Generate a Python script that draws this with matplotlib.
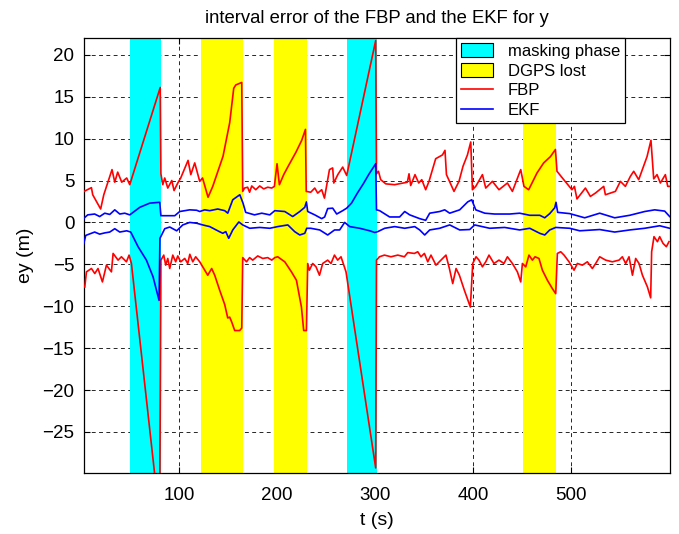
import matplotlib
matplotlib.use("Agg")
import matplotlib.pyplot as plt
from matplotlib.patches import Patch
from matplotlib.lines import Line2D

plt.rcParams['font.family'] = ['Liberation Sans', 'DejaVu Sans']

# ============================================================
#   DATA
# ============================================================
masking_phase = [(50, 82), (271, 302)]
dgps_lost = [(122, 165), (197, 231), (451, 485)]

fbp_up_t = [3.1, 10.6, 11.9, 20, 23.2, 31.6, 34.4, 37.4, 41.5, 46.6, 49.7, 80.8, 81.5,
            83.4, 85.4, 88.5, 92.6, 94.9, 98.7, 101.7, 109.2, 112, 116, 121.1, 124, 129.6,
            134.4, 144.9, 151.7, 155.8, 157.9, 164, 165, 166.8, 170, 172, 174.2, 178.3,
            182.3, 186.4, 190.5, 194.6, 197.3, 200, 202.4, 206.8, 210.9, 219.4, 225.2, 229,
            229.8, 234.4, 238.5, 241.5, 245.6, 248.4, 253.5, 256.8, 257.9, 262, 267, 271.1,
            300.7, 301.5, 303.5, 305.8, 311, 320, 333, 334.7, 336.4, 340.8, 344.6, 347.7,
            351.7, 355.1, 361.9, 368.8, 371.4, 372.9, 380.6, 385.7, 389.8, 394.3, 397.7,
            399.4, 402.8, 409.6, 413, 419.8, 426.5, 435.1, 440.2, 448.7, 452, 456.8, 465.3,
            472.1, 479, 484.1, 485.7, 492.6, 501, 503.5, 506.1, 514.7, 519.8, 524.9, 533.4,
            535.1, 545.3, 550.4, 555.5, 560.6, 564, 569.1, 577.6, 581.6, 584.4, 587.8,
            591.2, 596.3, 598.7, 600.6]
fbp_up = [3.7, 4.15, 3.3, 1.6, 3.3, 6.3, 4.8, 6.0, 4.8, 5.3, 4.5, 16.1, 5.8,
          4.5, 5.3, 4.1, 5.0, 3.8, 4.7, 5.3, 7.4, 5.7, 7.1, 4.9, 5.3, 3.0,
          4.3, 7.9, 11.9, 16.0, 16.4, 16.7, 3.7, 4.1, 4.2, 3.6, 4.35, 3.9,
          4.35, 4.0, 4.2, 4.1, 4.3, 7.0, 4.5, 5.7, 6.6, 8.4, 9.8, 11.1,
          3.7, 3.6, 4.1, 3.5, 3.9, 2.9, 6.3, 6.5, 4.7, 5.7, 6.6, 5.6,
          21.7, 5.8, 6.1, 5.1, 4.6, 4.5, 4.8, 5.8, 4.4, 5.7, 4.7, 5.1,
          3.9, 4.9, 7.6, 8.05, 8.6, 5.7, 3.7, 4.9, 6.7, 8.05, 9.6,
          3.9, 4.3, 5.7, 4.1, 4.9, 3.9, 4.7, 3.7, 6.3, 4.3, 3.9, 5.9,
          7.1, 7.85, 8.7, 6.1, 5.1, 3.9, 4.3, 2.8, 4.1, 3.1, 3.5, 4.3,
          3.3, 3.7, 4.9, 4.3, 5.5, 6.1, 5.1, 7.85, 9.8, 5.2, 5.7,
          4.7, 5.7, 4.3, 4.3]

fbp_lo_t = [3.8, 5.5, 10.6, 14, 17.3, 21.8, 25.9, 31, 32.7, 37.8, 41.2, 46.3, 49, 51.4,
            80.3, 81.5, 84.4, 86.4, 88.5, 90.5, 93.6, 96.6, 98.7, 101.7, 105.8, 108.9, 111,
            114, 117, 121.1, 126.2, 129.3, 133.3, 136.4, 141.5, 146.6, 149.7, 151.7, 153.8,
            156.8, 161.9, 164, 165, 168.9, 172, 175.2, 180.3, 185.4, 190.5, 194.6, 197.7,
            200.7, 207.9, 214.7, 219.8, 224.9, 227.2, 230, 231.3, 233, 236.4, 239.8, 243.3,
            246.6, 251.7, 255.1, 258.6, 261.9, 265.3, 270.4, 300.7, 301.5, 304.5, 309.6,
            316.3, 323.2, 330, 333.4, 340.2, 343.6, 346.9, 350.4, 353.8, 357.1, 362.2, 367.3,
            372.4, 375.9, 379.3, 382.7, 386.1, 391.2, 397.3, 399.7, 403.1, 406.1, 409.6, 413,
            416.3, 421.4, 426.5, 431.6, 435.1, 440.2, 445.3, 448.7, 450.4, 453.8, 457.1,
            460.6, 463.3, 467.3, 470.8, 475.9, 481, 484.4, 486.1, 489.5, 492.9, 498, 503.1,
            506.5, 511.6, 516.7, 521.8, 525.2, 529.3, 535.4, 542.2, 549, 552.4, 555.8, 559.2,
            562.7, 566, 569.4, 572.9, 578, 581.3, 582.3, 584.7, 588.2, 590.5, 593.9, 597.3, 600]
fbp_lo = [-7.7, -5.9, -5.5, -6.1, -5.5, -7.1, -5.1, -5.9, -3.7, -4.5, -4.1, -4.7, -3.9, -4.9,
          -35.5, -4.5, -3.9, -5.1, -4.3, -5.5, -3.9, -4.7, -4.0, -4.7, -4.3, -4.9, -3.8,
          -4.7, -4.1, -4.7, -5.7, -6.3, -5.5, -6.3, -8.1, -9.8, -11.4, -11.3, -11.9,
          -12.9, -12.9, -12.6, -4.2, -4.7, -4.2, -4.5, -4.0, -4.3, -4.2, -4.5, -4.2,
          -4.1, -4.7, -5.9, -6.9, -10.1, -12.9, -12.9, -4.9, -5.7, -4.9, -5.3, -6.3,
          -4.9, -4.5, -4.9, -3.9, -4.5, -4.1, -5.9, -29.3, -4.5, -4.1, -3.9,
          -4.1, -3.9, -4.1, -3.6, -3.7, -3.5, -4.1, -3.7, -4.7, -3.9, -5.1, -4.5,
          -3.9, -5.5, -7.3, -5.5, -6.3, -8.1, -10.1, -4.9, -4.1, -4.5, -5.3, -4.7,
          -3.9, -4.9, -4.5, -4.9, -4.1, -4.9, -5.9, -7.1, -4.9, -5.3, -3.9,
          -4.5, -4.1, -4.3, -5.7, -6.9, -7.9, -8.5, -3.7, -3.5, -3.9, -4.7, -5.7,
          -4.9, -5.1, -4.7, -5.5, -4.9, -4.1, -4.5, -4.7, -4.5, -4.1, -4.9, -4.1,
          -6.3, -4.3, -4.9, -6.3, -7.7, -9.0, -3.5, -1.7, -2.3, -1.7, -2.5, -2.9, -2.3]

ekf_up_t = [2.9, 6.8, 13.9, 19, 24.2, 29.3, 34.4, 39.5, 44.6, 49.7, 59.9, 70.1, 80.3, 81.5,
            85.4, 95.6, 100.7, 110.9, 118, 121.1, 126.2, 131.3, 139.5, 146.6, 149.7, 154.8,
            162, 165.3, 168, 177, 184.4, 192.6, 197.7, 207.9, 216, 223.2, 228.3, 230, 231.3,
            238.5, 245.6, 248.6, 251.7, 256.8, 260.9, 267, 271.1, 276, 282, 288, 294, 300.7,
            301.5, 304.7, 314.9, 325.1, 330.3, 335.4, 345.6, 351.7, 355.8, 366, 371.1, 376.2,
            386.4, 394.6, 398.7, 402.8, 412, 422.1, 437.4, 447.6, 451.7, 457.9, 468.1, 473.2,
            478.3, 483.4, 484.7, 486.4, 498.7, 514, 529.3, 544.6, 559.9, 575.2, 585.4, 595.6,
            600.7]
ekf_up = [0.5, 0.9, 1.0, 0.7, 1.1, 0.95, 1.5, 1.0, 1.1, 0.9, 1.8, 2.3, 2.4, 0.8,
          0.8, 0.8, 1.3, 1.5, 1.45, 1.3, 1.5, 1.4, 1.6, 1.4, 1.1, 2.7,
          3.3, 2.3, 1.2, 0.9, 1.1, 0.9, 1.4, 1.3, 0.7, 1.3, 1.8, 2.45, 1.3,
          0.9, 0.45, 0.65, 1.65, 1.7, 1.0, 1.4, 1.7, 2.3, 3.5, 4.6, 5.8, 7.0,
          1.5, 1.4, 0.65, 0.65, 1.3, 0.9, 0.45, 0.25, 1.1, 1.3, 1.5, 1.1,
          1.5, 2.45, 2.7, 1.5, 1.1, 1.0, 1.0, 1.1, 1.0, 0.85, 0.85, 0.55,
          1.05, 1.75, 2.4, 1.2, 1.05, 0.55, 1.1, 0.55, 0.85, 1.3, 1.5, 1.35,
          0.7]

ekf_lo_t = [2.8, 4.8, 13.9, 19, 24.2, 29.3, 34.4, 39.5, 46.6, 50.7, 58.2, 66.7, 73.5, 79.6,
            80.5, 85.4, 90.5, 97.6, 103.8, 110.9, 118, 124.2, 131.3, 139.5, 144.6, 147.7,
            150.7, 154.8, 161, 165, 172.1, 182.3, 192.6, 200.7, 211, 218, 223.2, 228.3,
            230.3, 234.4, 243.6, 251.7, 258.7, 263.9, 269, 274.2, 284.4, 294.6, 299.7, 302.8,
            309.9, 320.1, 330.3, 340.5, 345.6, 350.7, 355.8, 366, 376.2, 386.4, 396.6, 401.7,
            417, 432.3, 447.6, 457.9, 468.1, 473.2, 478.3, 484.4, 498.7, 508.9, 529.3, 544.6,
            559.9, 575.2, 590.5, 600.7]
ekf_lo = [-2.5, -1.55, -1.15, -1.4, -1.25, -1.15, -0.75, -1.15, -1.0, -1.15, -2.9, -4.5, -6.5, -9.3,
          -1.9, -0.75, -0.55, -1.0, -0.3, 0.0, -0.1, -0.3, -0.5, -1.0, -1.3, -1.1,
          -1.9, -0.9, 0.05, -0.3, -0.7, -0.6, -0.7, -0.5, -0.3, -1.1, -1.5, -1.3,
          -0.7, -0.7, -0.9, -1.5, -0.9, -0.9, 0.0, -0.5, -0.7, -1.0, -1.2, -1.1,
          -0.7, -0.5, -0.7, -0.5, -0.9, -1.5, -0.9, -0.7, -0.3, -0.9, -0.85, -0.3,
          -0.7, -0.6, -0.9, -0.7, -1.3, -1.5, -0.9, -0.6, -0.7, -1.0, -0.85, -1.15,
          -0.9, -0.7, -0.4, -0.7]

x_ticks = [100, 200, 300, 400, 500]
y_ticks = [-25, -20, -15, -10, -5, 0, 5, 10, 15, 20]

# ============================================================
#   PLOT
# ============================================================
fig = plt.figure(figsize=(6.79, 5.34), dpi=100)
ax = fig.add_axes([0.1237, 0.1142, 0.863, 0.8146])

for a, b in masking_phase:
    ax.axvspan(a, b, color="#00ffff", lw=0, zorder=1)
for a, b in dgps_lost:
    ax.axvspan(a, b, color="#ffff00", lw=0, zorder=1)

ax.plot(fbp_up_t, fbp_up, color="#ff0000", lw=1.2, zorder=3)
ax.plot(fbp_lo_t, fbp_lo, color="#ff0000", lw=1.2, zorder=3)
ax.plot(ekf_up_t, ekf_up, color="#0000ff", lw=1.2, zorder=3)
ax.plot(ekf_lo_t, ekf_lo, color="#0000ff", lw=1.2, zorder=3)

ax.set_xlim(3, 601)
ax.set_ylim(-29.9, 22)
ax.set_xticks(x_ticks)
ax.set_yticks(y_ticks)
ax.set_axisbelow(True)
ax.grid(True, color="0.15", linestyle=(0, (4, 3.5)), linewidth=0.7)
ax.tick_params(direction="in", length=4, labelsize=13.5, top=True, right=True)
ax.tick_params(axis="x", pad=10)
ax.tick_params(axis="y", pad=7)
for s in ax.spines.values():
    s.set_linewidth(0.9)

ax.set_title("interval error of the FBP and the EKF for y", fontsize=13.3, pad=11)
ax.set_xlabel("t (s)", fontsize=14, labelpad=6)
ax.set_ylabel("ey (m)", fontsize=14, labelpad=6)

handles = [Patch(facecolor="#00ffff", edgecolor="black", lw=0.8),
           Patch(facecolor="#ffff00", edgecolor="black", lw=0.8),
           Line2D([], [], color="#ff0000", lw=1.2),
           Line2D([], [], color="#0000ff", lw=1.2)]
leg = ax.legend(handles, ["masking phase", "DGPS lost", "FBP", "EKF"],
                loc="upper left", bbox_to_anchor=(0.635, 1.0), fontsize=12,
                fancybox=False, framealpha=1, edgecolor="black",
                handlelength=1.9, handleheight=0.9, labelspacing=0.25,
                borderpad=0.3, handletextpad=0.9, borderaxespad=0)
leg.get_frame().set_linewidth(0.9)
leg.set_zorder(5)

plt.savefig("out.png", dpi=100)
plt.close()
